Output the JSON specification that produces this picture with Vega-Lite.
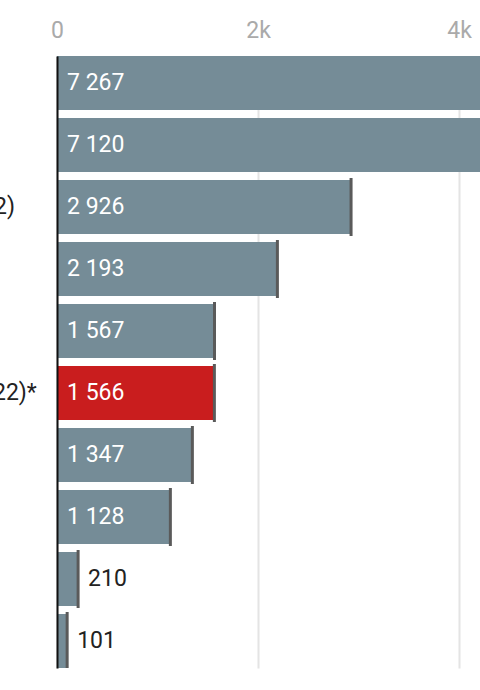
{
  "$schema": "https://vega.github.io/schema/vega-lite/v6.json",
  "width": 423,
  "height": 612,
  "autosize": {"type": "none"},
  "padding": {"left": 57, "top": 56, "right": 0, "bottom": 22},
  "config": {
    "font": "Roboto",
    "view": {"stroke": null},
    "locale": {"number": {"decimal": ",", "thousands": " ", "grouping": [3], "currency": ["", " €"]}}
  },
  "data": {
    "values": [
      {"label": "Pays A", "value": 7267, "highlight": false},
      {"label": "Pays B", "value": 7120, "highlight": false},
      {"label": "Pays C (2022)", "value": 2926, "highlight": false},
      {"label": "Pays D", "value": 2193, "highlight": false},
      {"label": "Pays E", "value": 1567, "highlight": false},
      {"label": "Pays FR (2022)*", "value": 1566, "highlight": true},
      {"label": "Pays G", "value": 1347, "highlight": false},
      {"label": "Pays H", "value": 1128, "highlight": false},
      {"label": "Pays I", "value": 210, "highlight": false},
      {"label": "Pays J", "value": 101, "highlight": false}
    ]
  },
  "encoding": {
    "y": {
      "field": "label",
      "type": "nominal",
      "sort": null,
      "scale": {"paddingInner": 0.129, "paddingOuter": 0},
      "axis": {
        "title": null,
        "ticks": false,
        "tickSize": 0,
        "domain": true,
        "domainColor": "#111111",
        "domainWidth": 2,
        "labelAlign": "left",
        "labelBaseline": "middle",
        "labelPadding": 186,
        "labelFontSize": 23,
        "labelColor": "#222222",
        "labelFont": "Roboto",
        "zindex": 2
      }
    }
  },
  "layer": [
    {
      "mark": {"type": "bar", "clip": true},
      "encoding": {
        "x": {
          "field": "value",
          "type": "quantitative",
          "scale": {"domain": [0, 4209], "nice": false, "zero": true},
          "axis": {
            "orient": "top",
            "title": null,
            "values": [0, 2000, 4000],
            "labelExpr": "datum.value == 0 ? '0' : format(datum.value, '~s')",
            "labelFlush": false,
            "domain": false,
            "ticks": false,
            "tickSize": 0,
            "labelPadding": 14,
            "labelFontSize": 23,
            "labelColor": "#aaaaaa",
            "labelFont": "Roboto",
            "grid": true,
            "gridColor": "#e4e4e4",
            "gridWidth": 2
          }
        },
        "color": {
          "field": "highlight",
          "type": "nominal",
          "scale": {"domain": [false, true], "range": ["#758c97", "#c91d1e"]},
          "legend": null
        }
      }
    },
    {
      "mark": {"type": "tick", "clip": true, "color": "#5a5a5a", "thickness": 3, "size": 58, "opacity": 1},
      "encoding": {
        "x": {"field": "value", "type": "quantitative"}
      }
    },
    {
      "transform": [{"filter": "datum.value >= 500"}],
      "mark": {"type": "text", "align": "left", "baseline": "middle", "dx": 10, "fontSize": 23, "font": "Roboto", "color": "#ffffff"},
      "encoding": {
        "x": {"datum": 0, "type": "quantitative"},
        "text": {"field": "value", "type": "quantitative", "format": ","}
      }
    },
    {
      "transform": [{"filter": "datum.value < 500"}],
      "mark": {"type": "text", "align": "left", "baseline": "middle", "dx": 10, "fontSize": 23, "font": "Roboto", "color": "#222222"},
      "encoding": {
        "x": {"field": "value", "type": "quantitative"},
        "text": {"field": "value", "type": "quantitative", "format": ","}
      }
    }
  ]
}
